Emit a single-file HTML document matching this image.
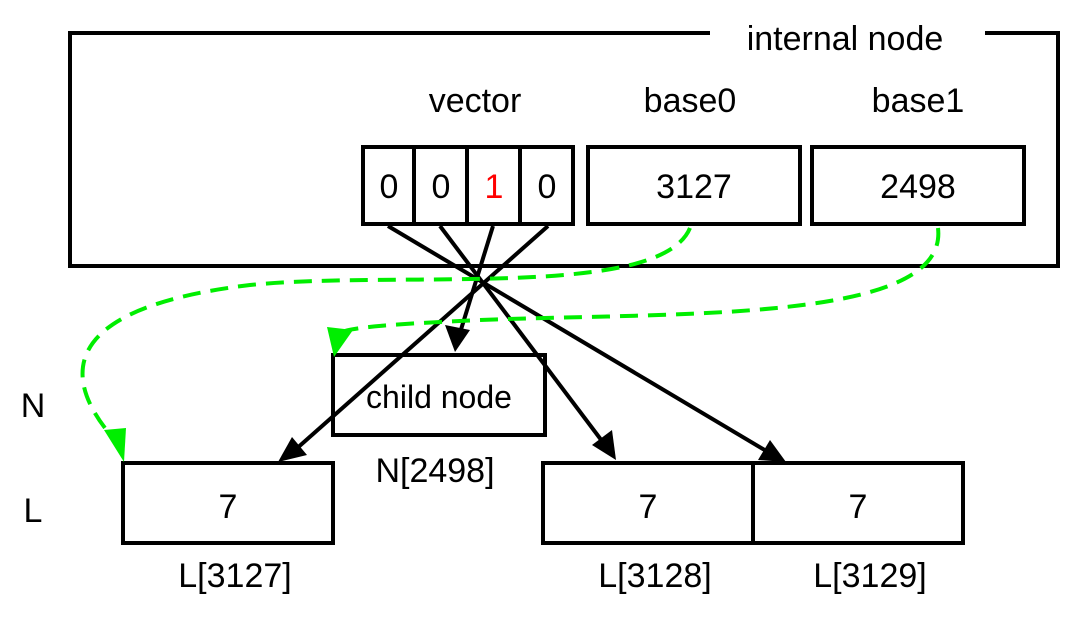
<!DOCTYPE html>
<html><head><meta charset="utf-8"><style>
body{margin:0;background:#fff;}
svg text{font-family:"Liberation Sans",sans-serif;}
</style></head><body>
<svg width="1080" height="620" viewBox="0 0 1080 620" xmlns="http://www.w3.org/2000/svg">
<defs>
<marker id="ab" markerWidth="10" markerHeight="10" refX="9" refY="5" orient="auto" markerUnits="userSpaceOnUse" viewBox="0 0 10 10"><path d="M0,0 L10,5 L0,10 z" fill="#000" transform="scale(1)"/></marker>
<marker id="ag" markerWidth="10" markerHeight="10" refX="9" refY="5" orient="auto" viewBox="0 0 10 10"><path d="M0,0 L10,5 L0,10 z" fill="#00ee00"/></marker>
</defs>
<g fill="none" stroke="#000" stroke-width="4">
<path d="M710,33 L70,33 L70,266 L1058,266 L1058,33 L985,33"/>
<rect x="363" y="147" width="51" height="77"/>
<rect x="414" y="147" width="53" height="77"/>
<rect x="467" y="147" width="53" height="77"/>
<rect x="520" y="147" width="53" height="77"/>
<rect x="588" y="147" width="212" height="77"/>
<rect x="812" y="147" width="212" height="77"/>
<rect x="333" y="355" width="212" height="80"/>
<rect x="123" y="463" width="210" height="80"/>
<rect x="543" y="463" width="210" height="80"/>
<rect x="753" y="463" width="210" height="80"/>
</g>
<g stroke="#000" stroke-width="4" fill="none">
<line x1="493" y1="226" x2="459" y2="336"/>
<line x1="548" y1="226" x2="295" y2="450"/>
<line x1="440" y1="226" x2="605" y2="445"/>
<line x1="388" y1="226" x2="768" y2="452"/>
</g>
<g fill="#000">
<polygon points="455,352 445,325 470,330"/>
<polygon points="278,462 292,437 307,455"/>
<polygon points="616,460 592,445 612,430"/>
<polygon points="786,462 758,460 770,440"/>
</g>
<g fill="none" stroke="#00ee00" stroke-width="4" stroke-dasharray="18,10">
<path d="M690,228 C660,300 400,270 250,285 C40,310 70,390 115,440"/>
<path d="M938,228 C950,330 640,310 440,322 C360,326 340,330 338,335"/>
</g>
<g fill="#00ee00">
<polygon points="124,462 104,430 126,428"/>
<polygon points="334,357 327,327 353,330"/>
</g>
<g font-size="34" fill="#000" text-anchor="middle">
<text x="845" y="50">internal node</text>
<text x="475" y="112">vector</text>
<text x="690" y="112">base0</text>
<text x="918" y="112">base1</text>
<text x="389" y="198">0</text>
<text x="441" y="198">0</text>
<text x="494" y="198" fill="#ff0000">1</text>
<text x="547" y="198">0</text>
<text x="694" y="198">3127</text>
<text x="918" y="198">2498</text>
<text x="439" y="408" font-size="32">child node</text>
<text x="435" y="482">N[2498]</text>
<text x="33" y="417">N</text>
<text x="33" y="522">L</text>
<text x="228" y="518">7</text>
<text x="648" y="518">7</text>
<text x="858" y="518">7</text>
<text x="235" y="587">L[3127]</text>
<text x="655" y="587">L[3128]</text>
<text x="870" y="587">L[3129]</text>
</g>
</svg>
</body></html>
